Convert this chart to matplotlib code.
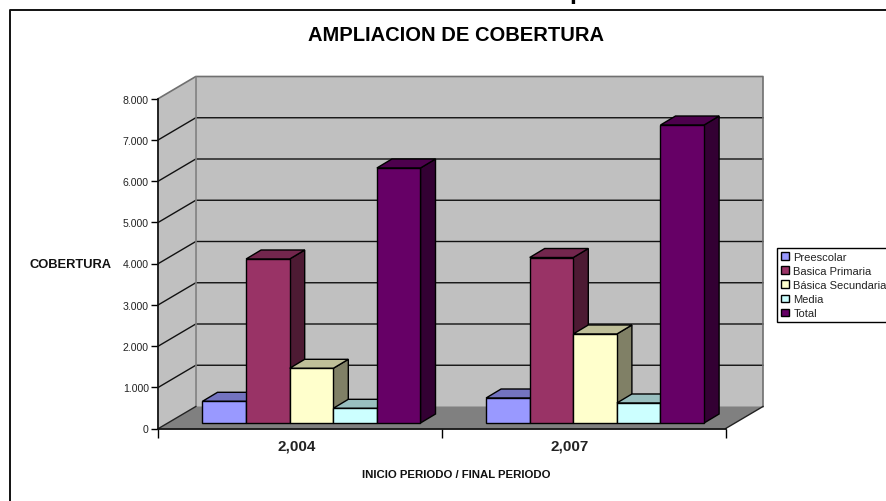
# -*- coding: utf-8 -*-
import matplotlib
matplotlib.use('Agg')
import matplotlib.pyplot as plt
from matplotlib.lines import Line2D

plt.rcParams['font.family'] = ['Liberation Sans', 'DejaVu Sans']

years = ['2,004', '2,007']
series = ['Preescolar', 'Basica Primaria', 'Básica Secundaria', 'Media', 'Total']
values_2004 = [526, 3976, 1326, 356, 6182]
values_2007 = [606, 4012, 2158, 485, 7224]
yticks = [0, 1000, 2000, 3000, 4000, 5000, 6000, 7000, 8000]
ytick_labels = ['0', '1.000', '2.000', '3.000', '4.000', '5.000', '6.000', '7.000', '8.000']

front = ['#9999FF', '#993366', '#FFFFCC', '#CCFFFF', '#660066']
top = ['#7373BF', '#73264D', '#BFBF99', '#99BFBF', '#4D004D']
side = ['#4D4D80', '#4D1A33', '#808066', '#668080', '#330033']

W, H = 887, 502
fig = plt.figure(figsize=(W/100, H/100), dpi=100)
fig.patch.set_facecolor('white')

# front plane of the fake 3d box
left, right, y0, y8 = 158.5, 725.7, 429.5, 99.5
ax = fig.add_axes([left/W, 1-y0/H, (right-left)/W, (y0-y8)/H])
ax.set_xlim(0, 2)
ax.set_ylim(0, 8000)
ax.patch.set_visible(False)

px = 2/(right-left)      # data per pixel
py = 8000/(y0-y8)
ddx, ddy = 37.3*px, 22*py    # box depth
bdx, bdy = 15*px, 9*py       # bar depth
sx, sy = 11.2*px, 5.5*py     # bar offset from the front plane
w = 43.6*px

# walls and floor
ax.fill([ddx, 2+ddx, 2+ddx, ddx], [ddy, ddy, 8000+ddy, 8000+ddy], fc='#C0C0C0', ec='none', clip_on=False, zorder=1)
ax.fill([0, ddx, ddx, 0], [0, ddy, 8000+ddy, 8000], fc='#C0C0C0', ec='none', clip_on=False, zorder=1)
for t in yticks[1:-1]:
    ax.plot([0, ddx, 2+ddx], [t, t+ddy, t+ddy], color='#111111', lw=1.0, clip_on=False, zorder=1.2)
ax.plot([0, ddx, 2+ddx, 2+ddx], [8000, 8000+ddy, 8000+ddy, ddy], color='#707070', lw=1.2, clip_on=False, zorder=1.3)
ax.plot([ddx, ddx], [ddy, 8000+ddy], color='#808080', lw=1.2, clip_on=False, zorder=1.3)
ax.fill([0, 2, 2+ddx, ddx], [0, 0, ddy, ddy], fc='#808080', ec='none', clip_on=False, zorder=1.4)
ax.plot([0, ddx], [0, ddy], color='#222222', lw=1.0, zorder=1.5, clip_on=False)
ax.plot([2, 2+ddx], [0, ddy], color='#222222', lw=1.0, zorder=1.5, clip_on=False)

# bars, back to front and left to right
z = 3
for g, vals in enumerate([values_2004, values_2007]):
    for i, v in enumerate(vals):
        x = g + 0.5 + (i-2.5)*w + sx
        x2 = x + w
        base, h = sy, sy + v
        ax.fill([x2, x2+bdx, x2+bdx, x2], [base, base+bdy, h+bdy, h], fc=side[i], ec='black', lw=1.0, zorder=z)
        ax.fill([x, x+bdx, x2+bdx, x2], [h, h+bdy, h+bdy, h], fc=top[i], ec='black', lw=1.0, zorder=z)
        ax.bar(x, v, w, bottom=base, align='edge', color=front[i], edgecolor='black', lw=1.0, zorder=z+0.1,
               label=series[i] if g == 0 else None)
        z += 1

for s in ['top', 'right']:
    ax.spines[s].set_visible(False)
for s in ['left', 'bottom']:
    ax.spines[s].set_linewidth(1.3)
    ax.spines[s].set_color('#111111')

ax.set_yticks(yticks)
ax.set_yticklabels(ytick_labels, fontsize=7.6, color='#222222')
ax.tick_params(axis='y', length=5, width=1, pad=2)
ax.set_xticks([0, 1, 2])
ax.set_xticklabels([])
ax.tick_params(axis='x', which='major', length=6.5, width=1)
# the year labels do not sit quite in the middle of their groups
ax.set_xticks([(296.5-left)*px, (570-left)*px], minor=True)
ax.set_xticklabels(years, minor=True, fontsize=11, fontweight='bold', color='#222222')
ax.tick_params(axis='x', which='minor', length=0, pad=7)

fig.text(456.5/W, 1-35.5/H, 'AMPLIACION DE COBERTURA', ha='center', va='center', fontsize=14.5, fontweight='bold', color='black')
fig.text(71/W, 1-265/H, 'COBERTURA', ha='center', va='center', fontsize=9.3, fontweight='bold', color='#111111')
fig.text(456/W, 1-475/H, 'INICIO PERIODO / FINAL PERIODO', ha='center', va='center', fontsize=8.2, fontweight='bold', color='#111111')

leg = ax.legend(loc='upper left', bbox_to_anchor=(777.5/W, 1-249.3/H), bbox_transform=fig.transFigure,
                fontsize=8, frameon=True, fancybox=False, framealpha=1, edgecolor='black', borderpad=0.33,
                labelspacing=0.37, handlelength=0.7, handleheight=0.7, handletextpad=0.4, borderaxespad=0)
leg.get_frame().set_linewidth(1.0)
leg.set_zorder(50)
for t in leg.get_texts():
    t.set_color('#222222')

# chart frame, only left and top are inside the picture
fig.add_artist(Line2D([10/W, 10/W, 1], [0, 1-11/H, 1-11/H], color='#111111', lw=1.4))
# tail of the page heading cut off above the frame
fig.text(569/W, 1+1/H, 'p', ha='left', va='baseline', fontsize=18, fontweight='bold', color='black')

fig.savefig('out.png', dpi=100)
